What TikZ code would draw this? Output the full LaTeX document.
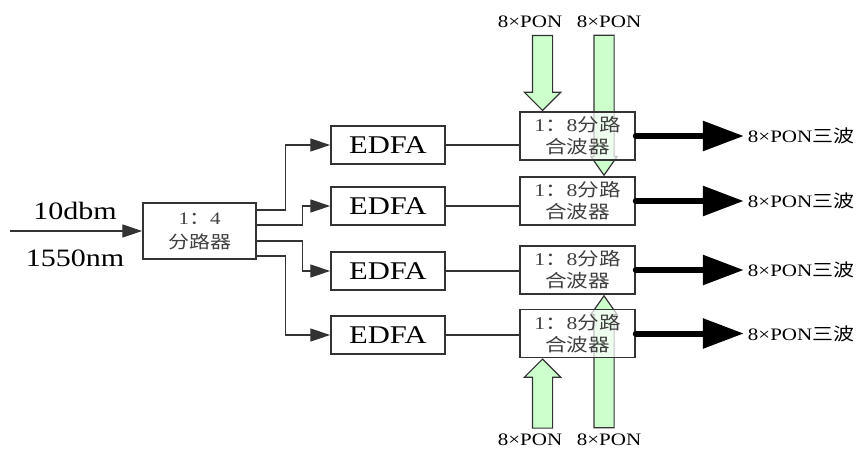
\documentclass[tikz,border=0pt]{standalone}
\usepackage{fontspec}
\setmainfont{Liberation Serif}[FakeStretch=1.2]
\newfontfamily\cjk{Noto Sans CJK SC}[FakeStretch=1.2]
\usetikzlibrary{arrows.meta,positioning,calc,shapes.arrows,backgrounds}
\tikzset{
  box/.style={draw=black!80,line width=1.5pt,fill=white,inner sep=0pt,align=center},
  split/.style={box,minimum width=113pt,minimum height=56pt,font=\fontsize{17.5}{24}\selectfont,text=black!75},
  amp/.style={box,minimum width=114pt,minimum height=38pt,font=\fontsize{25.5}{26}\selectfont},
  comb/.style={box,fill opacity=0.7,text opacity=1,minimum width=115pt,minimum height=48pt,font=\fontsize{18}{22}\selectfont,text=black!75},
  conn/.style={draw=black!80,line width=1.4pt},
  arr/.style={conn,-{Triangle[length=20pt,width=13pt]}},
  fat/.style={line width=6pt,line cap=round,-{Triangle[length=41pt,width=29pt]}},
  pon/.style={single arrow,draw=black!80,line width=1.2pt,fill=green!20,inner xsep=0pt,inner ysep=9.5pt,single arrow head indent=0pt},
  big/.style={font=\fontsize{25}{26}\selectfont},
  lbl/.style={font=\fontsize{17.5}{18}\selectfont},
  outlbl/.style={font=\fontsize{17.5}{18}\selectfont,inner sep=0pt},
}

\begin{document}
\begin{tikzpicture}[x=1pt,y=-1pt]
 \useasboundingbox (0,0) rectangle (861,452);
 % splitter and input
 \node[split] (split) at (199.5,231) {1{\cjk ：}4\\{\cjk 分路器}};
 \coordinate (in) at (10,231);
 \draw[arr] (in) -- (split.west);
 \node[big] (pw) at (75,211) {10dbm};
 \node[big] (wl) at (75,258) {1550nm};
 % amplifiers and combiners
 \foreach \y [count=\i] in {145,206,271,335}
  \node[amp] (e\i) at (388,\y) {EDFA};
 \foreach \y [count=\i] in {136,201,270,333.5}
  \node[comb] (c\i) at (577.5,\y) {1{\cjk ：}8{\cjk 分路}\\{\cjk 合波器}};
 % branches
 \draw[arr] ([yshift=21pt]split.east) -- ++(29,0) |- (e1.west);
 \draw[arr] ([yshift=6pt]split.east) -- ++(46,0) |- (e2.west);
 \draw[arr] ([yshift=-10pt]split.east) -- ++(46,0) |- (e3.west);
 \draw[arr] ([yshift=-25pt]split.east) -- ++(29,0) |- (e4.west);
 \foreach \i in {1,...,4}{
  \draw[conn] (e\i.east) -- (e\i.east -| c\i.west);
  \draw[fat] (c\i.east) -- ++(108,0) coordinate (t\i);
  \node[outlbl,right=4pt of t\i] (o\i) {8×PON{\cjk 三波}};
 }
 % PON inputs
 \begin{scope}[on background layer]
  \node[pon,rotate=-90,anchor=tip,minimum height=75pt,single arrow head extend=8pt] (g1) at ([xshift=-35pt]c1.north) {};
  \node[pon,rotate=-90,anchor=tip,minimum height=140pt,single arrow head extend=3pt,single arrow tip angle=70] (g2) at ([xshift=26.5pt]c2.north) {};
  \node[pon,rotate=90,anchor=tip,minimum height=69pt,single arrow head extend=8pt] (g3) at ([xshift=-35pt]c4.south) {};
  \node[pon,rotate=90,anchor=tip,minimum height=132pt,single arrow head extend=3pt,single arrow tip angle=70] (g4) at ([xshift=26.5pt]c3.south) {};
 \end{scope}
 \node[lbl] (p1) at (530,22) {8×PON};
 \node[lbl] (p2) at (609,22) {8×PON};
 \node[lbl] (p3) at (530,440) {8×PON};
 \node[lbl] (p4) at (609,440) {8×PON};
\end{tikzpicture}
\end{document}
